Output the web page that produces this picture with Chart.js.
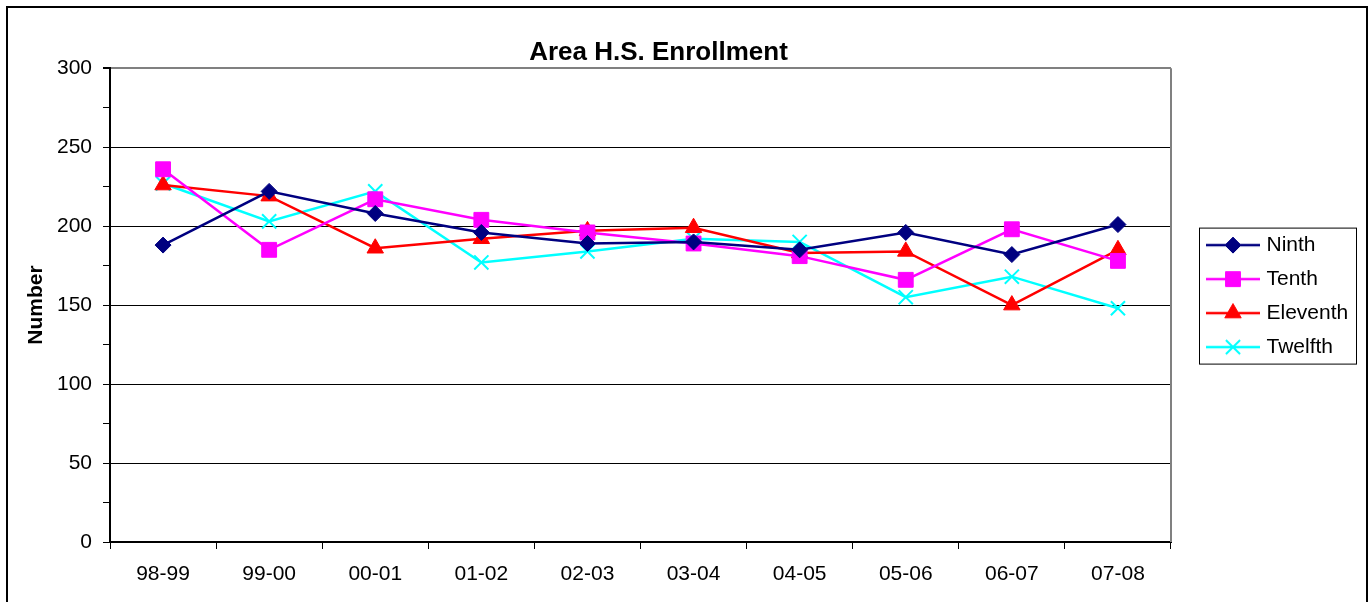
<!DOCTYPE html>
<html>
<head>
<meta charset="utf-8">
<script src="https://cdn.jsdelivr.net/npm/chart.js@4/dist/chart.umd.min.js"></script>
<style>
  html, body { margin: 0; padding: 0; background: #fff; overflow: hidden; }
  #frame { position: absolute; left: 6px; top: 6px; width: 1362px; height: 700px; border: 2px solid #000; box-sizing: border-box; }
  #wrap { position: absolute; left: 0; top: 0; width: 1369px; height: 602px; }
</style>
</head>
<body>
<div id="frame"></div>
<div id="wrap"><canvas id="enrollChart" width="1369" height="602"></canvas></div>
<script>
var years = ['98-99', '99-00', '00-01', '01-02', '02-03', '03-04', '04-05', '05-06', '06-07', '07-08'];
var ninth = [188, 222, 208, 196, 189, 190, 185, 196, 182, 201];
var tenth = [236, 185, 217, 204, 196, 189, 181, 166, 198, 178];
var eleventh = [226, 219, 186, 192, 197, 199, 183, 184, 150, 185];
var twelfth = [227, 203, 222, 177, 184, 192, 190, 155, 168, 148];

var FONT = "'Liberation Sans', Arial, sans-serif";

// little line + marker picture for each legend entry
function legendIcon(color, style, radius, bw) {
    var c = document.createElement('canvas');
    c.width = 80;
    c.height = 24;
    var g = c.getContext('2d');
    g.strokeStyle = color;
    g.fillStyle = color;
    g.lineWidth = 2.5;
    g.beginPath();
    g.moveTo(26, 12);
    g.lineTo(80, 12);
    g.stroke();
    g.lineWidth = bw;
    Chart.helpers.drawPoint(g, {pointStyle: style, radius: radius, borderWidth: bw, rotation: 0}, 53, 12);
    return c;
}

function series(label, data, color, style, radius, bw) {
    return {
        label: label,
        data: data,
        borderColor: color,
        backgroundColor: color,
        pointBackgroundColor: color,
        pointBorderColor: color,
        borderWidth: 2.5,
        pointStyle: style,
        pointRadius: radius,
        pointBorderWidth: bw,
        icon: legendIcon(color, style, radius, bw),
        tension: 0,
        fill: false
    };
}

// nudge title / legend to where the original puts them, and box the legend
var tweaks = {
    id: 'tweaks',
    afterLayout: function(chart) {
        var l = chart.legend;
        l.top -= 9;
        l.bottom -= 9;
        var t = chart.titleBlock;
        t.left -= 25;
        t.right -= 25;
    },
    afterDraw: function(chart) {
        var l = chart.legend;
        var hb = l.legendHitBoxes;
        if (!hb || !hb.length) return;
        var top = hb[0].top - 7;
        var bottom = hb[hb.length - 1].top + hb[hb.length - 1].height + 6;
        var ctx = chart.ctx;
        ctx.save();
        ctx.strokeStyle = '#000';
        ctx.lineWidth = 1;
        ctx.strokeRect(l.left + 28.5, top + 0.5, l.right - l.left - 29, bottom - top);
        // gray plot border on the right side
        var a = chart.chartArea;
        ctx.strokeStyle = '#808080';
        ctx.lineWidth = 2;
        ctx.beginPath();
        ctx.moveTo(a.right, a.top);
        ctx.lineTo(a.right, a.bottom);
        ctx.stroke();
        ctx.restore();
    }
};

var ctx = document.getElementById('enrollChart').getContext('2d');
var enrollChart = new Chart(ctx, {
    type: 'line',
    data: {
        labels: years,
        datasets: [
            series('Ninth', ninth, '#000080', 'rectRot', 8, 1),
            series('Tenth', tenth, '#FF00FF', 'rect', 10.5, 1),
            series('Eleventh', eleventh, '#FF0000', 'triangle', 9.5, 1),
            series('Twelfth', twelfth, '#00FFFF', 'crossRot', 10, 2)
        ]
    },
    plugins: [tweaks],
    options: {
        responsive: false,
        animation: false,
        layout: {
            padding: { left: 10, right: 12, top: 10, bottom: 0 }
        },
        plugins: {
            tooltip: { enabled: false },
            title: {
                display: true,
                text: 'Area H.S. Enrollment',
                color: '#000',
                font: { family: FONT, size: 26, weight: 'bold' },
                padding: { top: 27, bottom: 0 }
            },
            legend: {
                position: 'right',
                fullSize: false,
                maxWidth: 186,
                labels: {
                    color: '#000',
                    font: { family: FONT, size: 21 },
                    usePointStyle: true,
                    pointStyleWidth: 72,
                    padding: 13,
                    generateLabels: function(chart) {
                        var items = Chart.defaults.plugins.legend.labels.generateLabels(chart);
                        items.forEach(function(it) {
                            it.pointStyle = chart.data.datasets[it.datasetIndex].icon;
                        });
                        return items;
                    }
                }
            }
        },
        scales: {
            x: {
                offset: true,
                grid: {
                    offset: true,
                    drawTicks: true,
                    tickLength: 7,
                    tickColor: '#000',
                    color: 'rgba(0,0,0,0)'
                },
                border: { color: '#000', width: 2 },
                ticks: {
                    color: '#000',
                    font: { family: FONT, size: 21 },
                    padding: 13,
                    maxRotation: 0,
                    autoSkip: false
                },
                afterFit: function(scale) { scale.height = 60; }
            },
            y: {
                min: 0,
                max: 300,
                grid: {
                    tickLength: 7,
                    tickColor: '#000',
                    color: function(c) {
                        if (!c.tick) return 'rgba(0,0,0,0)';
                        if (c.tick.value === 300) return '#808080';
                        return c.tick.value % 50 === 0 ? '#000' : 'rgba(0,0,0,0)';
                    },
                    lineWidth: function(c) { return c.tick && c.tick.value === 300 ? 2 : 1; }
                },
                border: { color: '#000', width: 2 },
                ticks: {
                    stepSize: 25,
                    autoSkip: false,
                    color: '#000',
                    font: { family: FONT, size: 21 },
                    padding: 11,
                    callback: function(v) { return v % 50 === 0 ? v : ''; }
                },
                title: {
                    display: true,
                    text: 'Number',
                    color: '#000',
                    font: { family: FONT, size: 21, weight: 'bold' },
                    padding: { top: 14, bottom: 0 }
                },
                afterFit: function(scale) { scale.width = 100; }
            }
        }
    }
});
</script>
</body>
</html>
